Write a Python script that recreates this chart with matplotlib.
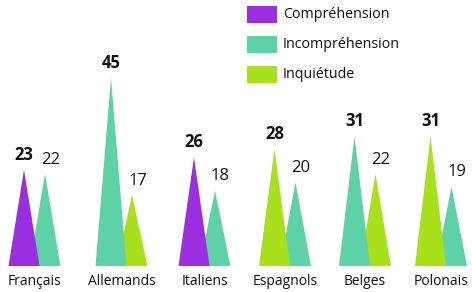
import matplotlib
matplotlib.use('Agg')
import matplotlib.pyplot as plt
from matplotlib.patches import Rectangle

plt.rcParams['font.family'] = ['Open Sans', 'DejaVu Sans']

categories = ['Français', 'Allemands', 'Italiens', 'Espagnols', 'Belges', 'Polonais']
# the taller peak of each pair (bold label, drawn in front)
front_series = ['Compréhension', 'Incompréhension', 'Compréhension', 'Inquiétude', 'Incompréhension', 'Inquiétude']
front_values = [23, 45, 26, 28, 31, 31]
# the smaller peak, to the right and behind
back_series = ['Incompréhension', 'Inquiétude', 'Incompréhension', 'Incompréhension', 'Inquiétude', 'Incompréhension']
back_values = [22, 17, 18, 20, 22, 19]

legend_labels = ['Compréhension', 'Incompréhension', 'Inquiétude']
colors = {'Compréhension': '#9b2fe0', 'Incompréhension': '#5fd1a6', 'Inquiétude': '#a8e01c'}

# layout: group centres in pixels across the 472 px wide figure
group_x = [34.5, 121.5, 204.5, 285, 365, 441]
half_w = 15.5   # half base width of a peak (px)
shift = 10.5    # offset of each peak from the group centre (px)

fig = plt.figure(figsize=(4.72, 2.92), dpi=100)
ax = fig.add_axes([0, 0, 1, 1])
ax.set_xlim(0, 472)
ax.set_ylim(-6.22, 63.6)
ax.axis('off')


def peak(x, h, color, z):
    ax.fill([x - half_w, x, x + half_w], [0, h, 0], color=color, lw=0, zorder=z)


for i, cat in enumerate(categories):
    x1 = group_x[i] - shift
    x2 = group_x[i] + shift
    peak(x2, back_values[i], colors[back_series[i]], 1)
    peak(x1, front_values[i], colors[front_series[i]], 2)
    ax.text(x1, front_values[i] + 1.5, str(front_values[i]), ha='center', va='bottom',
            fontsize=12, fontweight='bold', color='#111111')
    ax.text(x2 + 5.5, back_values[i] + 1.5, str(back_values[i]), ha='center', va='bottom',
            fontsize=12, color='#111111')
    ax.text(group_x[i], -4.55, cat, ha='center', va='baseline', fontsize=10, color='#111111')

# legend drawn by hand (pixel layout of the original)
W, H = 472, 292
for k, lab in enumerate(legend_labels):
    yc = 14.5 + 29.8 * k
    fig.add_artist(Rectangle((247 / W, 1 - (yc + 8.5) / H), 30 / W, 17 / H,
                             transform=fig.transFigure, color=colors[lab], lw=0))
    fig.text(283 / W, 1 - yc / H, lab, ha='left', va='center', fontsize=10.3, color='#111111')

fig.savefig('out.png', dpi=100)
